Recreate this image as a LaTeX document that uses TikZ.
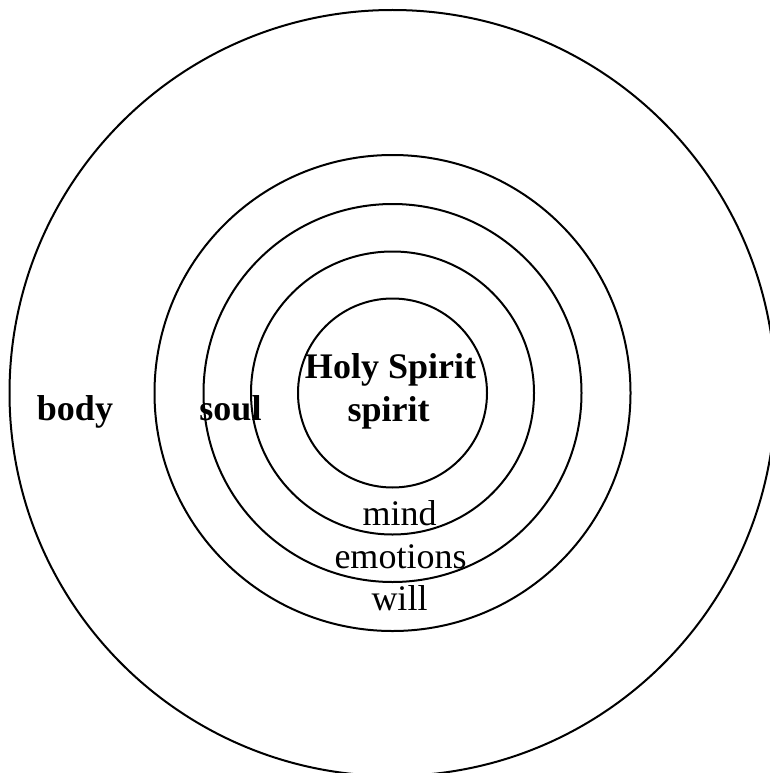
\documentclass[tikz,border=0pt]{standalone}
\usepackage{fontspec}
\setmainfont{Liberation Serif}
\begin{document}
\begin{tikzpicture}[x=1pt,y=-1pt,
  ring/.style={draw=black,line width=2pt},
  lbl/.style={inner sep=0pt,anchor=base,font=\fontsize{36}{43}\selectfont},
  blbl/.style={lbl,font=\fontsize{36}{43}\selectfont\bfseries}]
\useasboundingbox (0,0) rectangle (770,773);
\coordinate (c) at (392.5,393);
\draw[ring] (c) circle[radius=383];
\draw[ring] (c) circle[radius=238];
\draw[ring] (c) circle[radius=189];
\draw[ring] (c) circle[radius=141.5];
\draw[ring] (c) circle[radius=94.5];
\node[blbl] (body) at (75,420) {body};
\node[blbl] (soul) at (230.5,420) {soul};
\node[blbl] (holy) at (390.5,378) {Holy Spirit};
\node[blbl] (spirit) at (388.5,421) {spirit};
\node[lbl] (mind) at (399.5,525) {mind};
\node[lbl] (emo) at (400.5,568) {emotions};
\node[lbl] (will) at (399.5,610) {will};
\end{tikzpicture}
\end{document}
